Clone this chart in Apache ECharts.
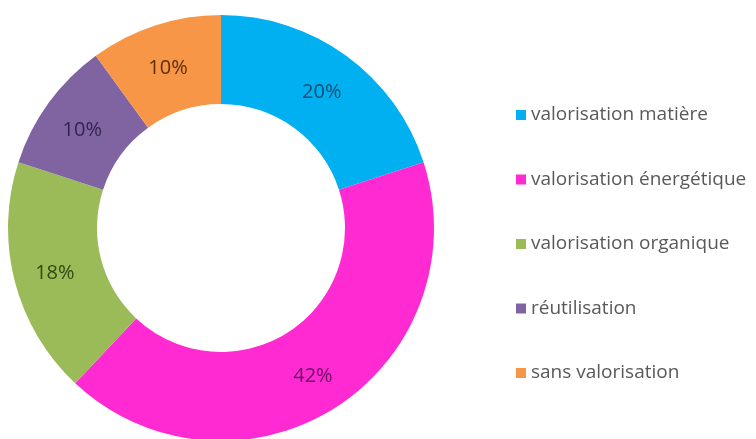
<!DOCTYPE html>
<html>
<head>
<meta charset="utf-8">
<script src="https://cdn.jsdelivr.net/npm/echarts@6/dist/echarts.min.js"></script>
<style>
  html, body { margin: 0; padding: 0; background: #fff; }
  #main { width: 756px; height: 439px; }
</style>
</head>
<body>
<div id="main"></div>
<script>
// données du graphique
var categories = ['valorisation matière', 'valorisation énergétique', 'valorisation organique', 'réutilisation', 'sans valorisation']
var values = [20, 42, 18, 10, 10]
var colors = ['#00b0f0', '#ff2ad2', '#9bbb59', '#8064a2', '#f79646']
var labelColors = ['#0b4f72', '#6a1060', '#2f4a12', '#33254a', '#5c2e0a']

var chart = echarts.init(document.getElementById('main'))

var option = {
  animation: false,
  color: colors,
  legend: {
    orient: 'vertical',
    left: 511,
    top: 99,
    itemWidth: 10,
    itemHeight: 10,
    itemGap: 42.5,
    icon: 'rect',
    data: categories,
    textStyle: {
      fontFamily: 'Open Sans',
      fontSize: 19,
      lineHeight: 22,
      color: '#595959'
    }
  },
  series: [
    {
      type: 'pie',
      center: [221, 228],
      radius: [124, 213],
      startAngle: 90,
      clockwise: true,
      avoidLabelOverlap: false,
      label: {
        show: true,
        position: 'inside',
        formatter: '{c}%',
        fontFamily: 'Open Sans',
        fontSize: 20,
        offset: [0, 3]
      },
      labelLine: { show: false },
      emphasis: { disabled: true },
      data: categories.map(function(name, i) {
        return {
          name: name,
          value: values[i],
          label: { color: labelColors[i] }
        }
      })
    }
  ]
}

chart.setOption(option)
</script>
</body>
</html>
